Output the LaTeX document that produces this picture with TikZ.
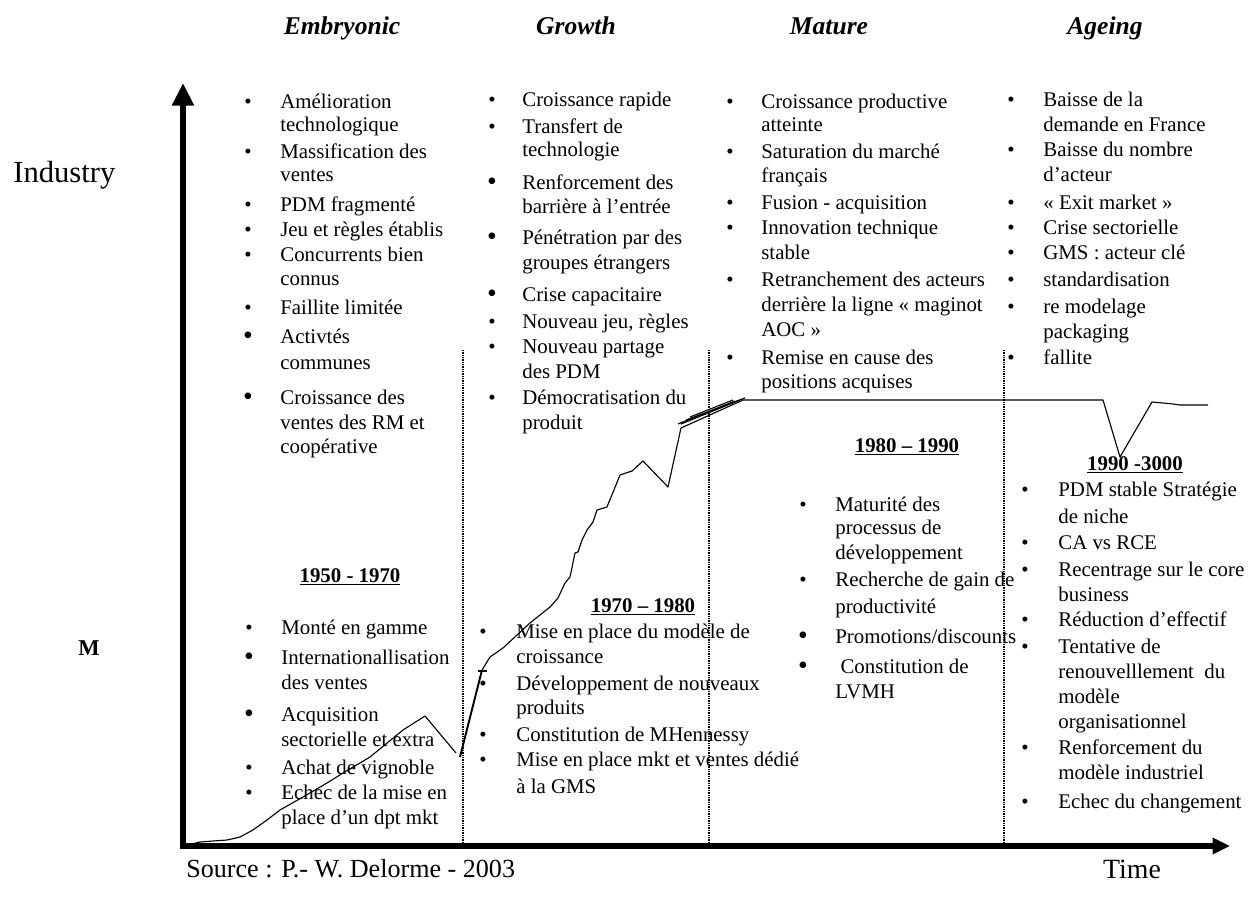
\documentclass[tikz,border=0pt]{standalone}
\usepackage{fontspec}
\setmainfont{Liberation Serif}
\usetikzlibrary{arrows.meta}
\newcommand\bcol[3]{%
  \foreach \yv/\bv/\tv in {#3}{%
    \node[txt] (t#2-\yv) at (#2,\yv) {\tv};
    \ifcase\bv\or \node[bul] (b#2-\yv) at (#1,\yv) {•};\or \node[bigbul] (b#2-\yv) at (#1,\yv) {•};\fi
  }}
\begin{document}
\begin{tikzpicture}[x=0.575pt,y=-0.575pt,
  txt/.style={anchor=mid west,inner sep=0pt,yshift=-1.2pt,font=\fontsize{12}{13.8}\selectfont},
  bul/.style={anchor=mid,inner sep=0pt,yshift=-1.2pt,font=\fontsize{12}{13.8}\selectfont},
  bigbul/.style={anchor=mid,inner sep=0pt,yshift=-2.2pt,font=\fontsize{16}{18}\selectfont},
  hdr/.style={anchor=base,inner sep=0pt,font=\fontsize{14.7}{16}\selectfont\bfseries\itshape},
  per/.style={inner sep=0pt,font=\fontsize{12}{13.8}\selectfont\bfseries},
  axis/.style={line width=3.4pt,line join=miter},
  sep/.style={line width=0.7pt,dash pattern=on 0.5pt off 0.5pt},
  curve/.style={line width=0.65pt,line join=round}]
\useasboundingbox (0,0) rectangle (1259,898);
% headers
\node[hdr] (h1) at (342,34) {Embryonic};
\node[hdr] (h2) at (576,34) {Growth};
\node[hdr] (h3) at (829,34) {Mature};
\node[hdr] (h4) at (1105,34) {Ageing};
% axis labels
\node[anchor=west,inner sep=0pt,font=\fontsize{17.6}{19}\selectfont] (ind) at (13,175) {Industry};
\node[inner sep=0pt,font=\fontsize{13}{15}\selectfont\bfseries] (m) at (89,648) {M};
\node[anchor=base west,inner sep=0pt,font=\fontsize{15}{17}\selectfont] (src) at (186,877) {Source : P.- W. Delorme - 2003};
\node[anchor=base,inner sep=0pt,font=\fontsize{16}{18}\selectfont] (time) at (1132,878) {Time};
% axes
\coordinate (ytop) at (183,83);
\coordinate (orig) at (183,846);
\coordinate (xend) at (1230,846);
\draw[axis,{Triangle[length=13pt,width=12pt]}-{Triangle[length=10pt,width=9pt]}] (ytop) -- (orig) -- (xend);
% separators
\coordinate (s1t) at (463,350); \coordinate (s1b) at (463,843);
\coordinate (s2t) at (709,350); \coordinate (s2b) at (709,843);
\coordinate (s3t) at (1004,350); \coordinate (s3b) at (1004,843);
\draw[sep] (s1t) -- (s1b);
\draw[sep] (s2t) -- (s2b);
\draw[sep] (s3t) -- (s3b);
% curve
\draw[curve] (188,845) -- (200,842) -- (213,841) -- (227,840) -- (240,837) -- (253,830) -- (267,820) -- (280,810) -- (303,797) -- (327,783) -- (343,773) -- (370,757) -- (403,730) -- (425,716) -- (456,753);
\draw[curve,line width=1.1pt] (460,757) -- (482,670);
\draw[curve] (478,671) -- (487,671);
\draw[curve] (482,670) -- (490,657) -- (503,648) -- (517,635) -- (530,623) -- (540,615) -- (550,607) -- (558,598) -- (565,583) -- (570,577) -- (575,553) -- (578,552) -- (582,540) -- (587,530) -- (593,522) -- (597,510) -- (607,507) -- (620,475) -- (632,471) -- (643,461) -- (668,487) -- (681,428) -- (743,400);
\draw[curve] (678,424) -- (735,401);
\draw[curve] (681,424) -- (740,400);
\draw[curve] (686,420) -- (745,398);
\draw[curve] (690,417) -- (733,400);
\draw[curve] (743,400) -- (1103,400) -- (1120,457) -- (1152,402) -- (1163,403) -- (1173,404) -- (1180,405) -- (1208,405);
% period labels
\node[per] (p1) at (350,577) {\underline{1950 - 1970}};
\node[per] (p2) at (643,607) {\underline{1970 – 1980}};
\node[per] (p3) at (907,447) {\underline{1980 – 1990}};
\node[per] (p4) at (1135,465) {\underline{1990 -3000}};
% columns, top
\bcol{248}{280}{102/1/Amélioration, 125/0/technologique, 152/1/Massification des, 175/0/ventes, 205/1/PDM fragmenté, 230/1/Jeu et règles établis, 255/1/Concurrents bien, 279/0/connus, 308/1/Faillite limitée, 337/2/Activtés, 363/0/communes, 398/2/Croissance des, 423/0/ventes des RM et, 447/0/coopérative}
\bcol{492}{522}{100/1/Croissance rapide, 127/1/Transfert de, 150/0/technologie, 183/2/Renforcement des, 207/0/barrière à l’entrée, 238/2/Pénétration par des, 263/0/groupes étrangers, 295/2/Crise capacitaire, 322/1/{Nouveau jeu, règles}, 347/1/Nouveau partage, 372/0/des PDM, 398/1/Démocratisation du, 423/0/produit}
\bcol{730}{761}{102/1/Croissance productive, 125/0/atteinte, 152/1/Saturation du marché, 176/0/français, 203/1/Fusion - acquisition, 228/1/Innovation technique, 253/0/stable, 280/1/Retranchement des acteurs, 305/0/derrière la ligne « maginot, 330/0/AOC », 358/1/Remise en cause des, 382/0/positions acquises}
\bcol{1011}{1043}{100/1/Baisse de la, 125/0/demande en France, 150/1/Baisse du nombre, 175/0/d’acteur, 203/1/« Exit market », 228/1/Crise sectorielle, 253/1/GMS : acteur clé, 280/1/standardisation, 307/1/re modelage, 332/0/packaging, 358/1/fallite}
% columns, bottom
\bcol{249}{281}{628/1/Monté en gamme, 658/2/Internationallisation, 683/0/des ventes, 715/2/Acquisition, 740/0/sectorielle et extra, 768/1/Achat de vignoble, 793/1/Echec de la mise en, 818/0/place d’un dpt mkt}
\bcol{483}{516}{632/1/Mise en place du modèle de, 657/0/croissance, 684/1/Développement de nouveaux, 708/0/produits, 735/1/Constitution de MHennessy, 760/1/Mise en place mkt et ventes dédié, 787/0/à la GMS}
\bcol{803}{835}{505/1/Maturité des, 528/0/processus de, 553/0/développement, 580/1/Recherche de gain de, 607/0/productivité, 637/2/{Promotions/discounts}, 667/2/{\hspace{0.25em}Constitution de}, 692/0/LVMH}
\bcol{1025}{1058}{490/1/PDM stable Stratégie, 517/0/de niche, 543/1/CA vs RCE, 570/1/Recentrage sur le core, 595/0/business, 620/1/Réduction d’effectif, 647/1/Tentative de, 672/0/renouvelllement\ \ du, 697/0/modèle, 722/0/organisationnel, 748/1/Renforcement du, 773/0/modèle industriel, 802/1/Echec du changement}
\end{tikzpicture}
\end{document}
